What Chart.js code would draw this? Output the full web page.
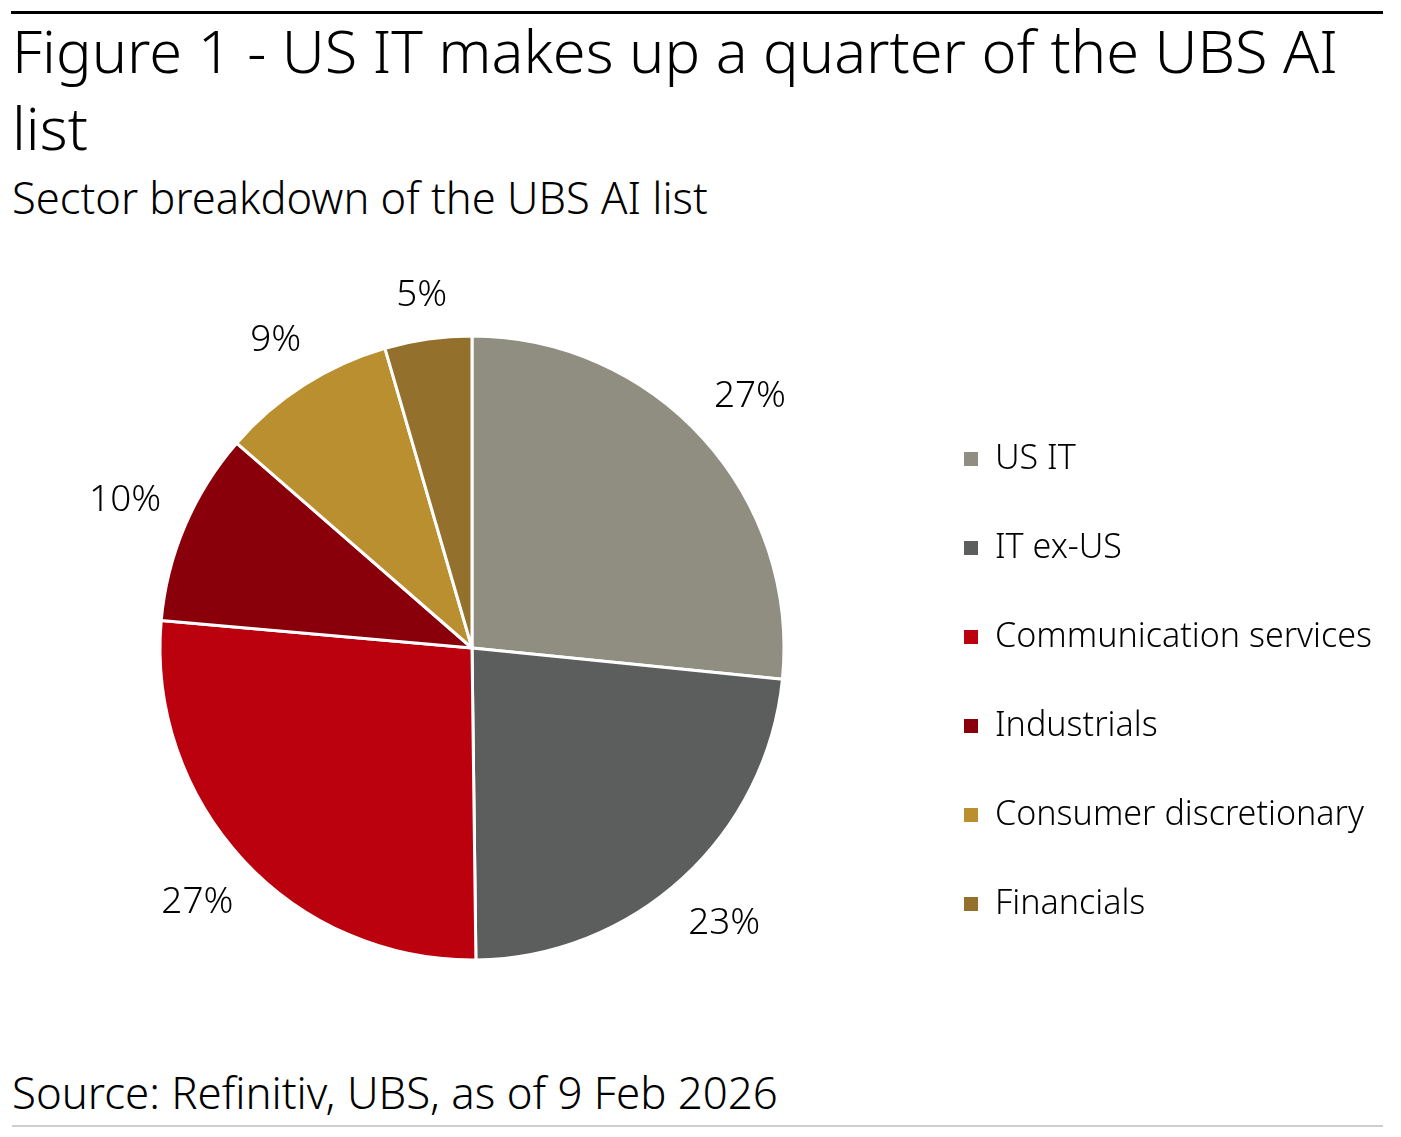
<!DOCTYPE html>
<html>
<head>
<meta charset="utf-8">
<script src="https://cdn.jsdelivr.net/npm/chart.js@4.4.1/dist/chart.umd.min.js"></script>
<style>
  html, body { margin: 0; padding: 0; background: #fff; }
  #page { position: relative; width: 1401px; height: 1137px; overflow: hidden; font-family: "Noto Sans", sans-serif; font-weight: 300; color: #000; }
  .txt { position: absolute; left: 12px; white-space: nowrap; line-height: 1.362; }
  #topRule { position: absolute; left: 11px; top: 11px; width: 1372px; height: 3px; background: #000; }
  #bottomRule { position: absolute; left: 12px; top: 1125px; width: 1371px; height: 2px; background: #cfcfcf; }
  #chart { position: absolute; left: 0; top: 240px; }
</style>
</head>
<body>
<div id="page">
  <div id="topRule"></div>
  <div class="txt" id="title1">Figure 1 - US IT makes up a quarter of the UBS AI</div>
  <div class="txt" id="title2">list</div>
  <div class="txt" id="subtitle">Sector breakdown of the UBS AI list</div>
  <canvas id="chart" width="1401" height="800"></canvas>
  <div class="txt" id="source">Source: Refinitiv, UBS, as of 9 Feb 2026</div>
  <div id="bottomRule"></div>
</div>
<script>
const sectors = ['US IT', 'IT ex-US', 'Communication services', 'Industrials', 'Consumer discretionary', 'Financials']
const shares = [26.6, 23.2, 26.6, 10.0, 9.1, 4.5]
const shareLabels = ['27%', '23%', '27%', '10%', '9%', '5%']
const colors = ['#8f8e81', '#5b5e5d', '#bb000e', '#8a000a', '#b98f2f', '#94702d']

const FONT = '"Noto Sans", sans-serif'
const WEIGHT = '300'
const measure = document.createElement('canvas').getContext('2d')

// font size that makes the text as wide as in the reference
function fitSize(text, width) {
    measure.font = WEIGHT + ' 100px ' + FONT
    return 100 * width / measure.measureText(text).width
}

function placeText(id, width, baseline, size) {
    let el = document.getElementById(id)
    let s = size || fitSize(el.textContent, width)
    el.style.fontSize = s + 'px'
    el.style.top = (baseline - 1.069 * s) + 'px'
    return s
}

let titleSize = placeText('title1', 1326, 73)
placeText('title2', 0, 150, titleSize)
placeText('subtitle', 696, 215)
placeText('source', 766, 1110)

let legendSize = fitSize('Communication services', 377)
let labelSize = fitSize('27%', 72)
let rowStep = 89
let legendPad = rowStep - legendSize
let boxSize = 14

// chart area placed so the pie sits at x=472, y=648
let areaTop = 320 - 240
let areaBottom = 1040 - 976
let legendLeft = 964 - legendPad
let areaLeft = 944 - legendLeft
measure.font = WEIGHT + ' ' + legendSize + 'px ' + FONT
let legendWidth = legendPad + boxSize + legendSize / 2 + measure.measureText('Communication services').width + 10
let areaRight = Math.max(0, 1401 - legendLeft - legendWidth)

const outsideLabels = {
    id: 'outsideLabels',
    afterDatasetsDraw(chart) {
        const ctx = chart.ctx
        const arcs = chart.getDatasetMeta(0).data
        ctx.save()
        ctx.font = WEIGHT + ' ' + labelSize + 'px ' + FONT
        ctx.fillStyle = '#000'
        ctx.textAlign = 'center'
        ctx.textBaseline = 'middle'
        arcs.forEach((arc, i) => {
            const p = arc.getProps(['x', 'y', 'startAngle', 'endAngle', 'outerRadius'], true)
            const mid = (p.startAngle + p.endAngle) / 2
            const dx = Math.cos(mid)
            const dy = Math.sin(mid)
            const w = ctx.measureText(shareLabels[i]).width
            const r = p.outerRadius + 26 + Math.abs(dx) * w / 2 + Math.abs(dy) * 15
            ctx.fillText(shareLabels[i], p.x + dx * r, p.y + dy * r)
        })
        ctx.restore()
    }
}

new Chart(document.getElementById('chart'), {
    type: 'pie',
    data: {
        labels: sectors,
        datasets: [{
            data: shares,
            backgroundColor: colors,
            borderColor: '#ffffff',
            borderWidth: 3,
            radius: 312
        }]
    },
    options: {
        responsive: false,
        animation: false,
        events: [],
        layout: {
            padding: { top: areaTop, bottom: areaBottom, left: areaLeft, right: areaRight }
        },
        plugins: {
            tooltip: { enabled: false },
            legend: {
                position: 'right',
                align: 'end',
                labels: {
                    boxWidth: boxSize,
                    boxHeight: boxSize,
                    padding: legendPad,
                    color: '#000',
                    font: { family: FONT, size: legendSize, weight: WEIGHT },
                    generateLabels(chart) {
                        return chart.data.labels.map((text, i) => ({
                            text: text,
                            fillStyle: colors[i],
                            strokeStyle: colors[i],
                            lineWidth: 0,
                            fontColor: '#000',
                            hidden: false,
                            index: i
                        }))
                    }
                }
            }
        }
    },
    plugins: [outsideLabels]
})
</script>
</body>
</html>
